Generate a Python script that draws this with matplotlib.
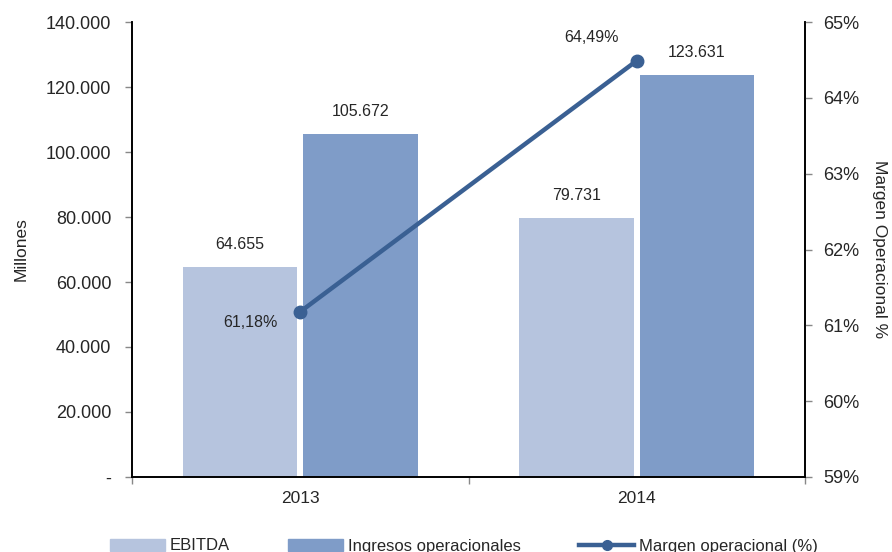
import matplotlib.pyplot as plt
import numpy as np
from matplotlib.lines import Line2D
from matplotlib.patches import Patch

plt.rcParams['font.family'] = ['Liberation Sans', 'DejaVu Sans']

# ---- datos ----
anios = ['2013', '2014']
ebitda = [64655, 79731]
ingresos = [105672, 123631]
margen = [61.18, 64.49]

col_ebitda = '#b6c4de'
col_ingresos = '#7f9cc8'
col_margen = '#3a6093'
col_texto = '#262626'


def miles(v):
    return f'{v:,.0f}'.replace(',', '.')


fig = plt.figure(figsize=(8.92, 5.52), dpi=100)
ax = fig.add_axes([0.148, 0.1359, 0.7545, 0.8242])
ax2 = ax.twinx()

x = np.arange(len(anios))
w = 0.34
off = 0.179

b1 = ax.bar(x - off, ebitda, w, color=col_ebitda, zorder=2)
b2 = ax.bar(x + off, ingresos, w, color=col_ingresos, zorder=2)

for xs, vals in ((x - off, ebitda), (x + off, ingresos)):
    for xi, v in zip(xs, vals):
        ax.annotate(miles(v), (xi, v), xytext=(0, 16), textcoords='offset points',
                    ha='center', va='center', fontsize=11.5, color=col_texto)

ax.set_xlim(-0.5, 1.5)
ax.set_ylim(0, 140000)
ax.set_yticks(np.arange(0, 140001, 20000))
ax.set_yticklabels(['-'] + [miles(v) for v in range(20000, 140001, 20000)])
ax.set_xticks([-0.5, 0.5, 1.5])
ax.set_xticklabels([])
ax.set_xticks(x, minor=True)
ax.set_xticklabels(anios, minor=True)
ax.tick_params(axis='x', which='minor', length=0, pad=10, labelsize=12.5, labelcolor=col_texto)
ax.tick_params(axis='x', which='major', length=5, direction='out', width=1, color='#888888')
ax.tick_params(axis='y', length=5, width=1, pad=10, labelsize=13, color='#888888',
               labelcolor=col_texto)
ax.set_ylabel('Millones', fontsize=12.5, labelpad=12, color=col_texto)

# línea de margen sobre eje derecho
ax2.plot(x, margen, color=col_margen, lw=3.2, marker='o', ms=9, zorder=5)
ax2.set_ylim(59, 65)
ax2.set_yticks(range(59, 66))
ax2.set_yticklabels([f'{v}%' for v in range(59, 66)])
ax2.tick_params(axis='y', length=5, width=1, pad=8, labelsize=13, color='#888888',
                labelcolor=col_texto)
ax2.set_ylabel('Margen Operacional %', fontsize=12.5, rotation=-90, labelpad=20,
               color=col_texto)

ax2.annotate(f'{margen[0]:.2f}%'.replace('.', ','), (x[0], margen[0]), xytext=(-16, -8),
             textcoords='offset points', ha='right', va='center', fontsize=11.5,
             color=col_texto)
ax2.annotate(f'{margen[1]:.2f}%'.replace('.', ','), (x[1], margen[1]), xytext=(-13, 17),
             textcoords='offset points', ha='right', va='center', fontsize=11.5,
             color=col_texto)

for a in (ax, ax2):
    a.spines['top'].set_visible(False)
    for s in ('left', 'right', 'bottom'):
        a.spines[s].set_linewidth(1.2)
ax.set_zorder(ax2.get_zorder() - 1)
ax2.patch.set_visible(False)

handles = [Patch(color=col_ebitda), Patch(color=col_ingresos),
           Line2D([], [], color=col_margen, lw=3.2, marker='o', ms=7)]
fig.legend(handles, ['EBITDA', 'Ingresos operacionales', 'Margen operacional (%)'],
           loc='center', bbox_to_anchor=(0.52, 1 - 546 / 552), ncol=3, frameon=False,
           fontsize=12, handlelength=3.3, handleheight=0.7, handletextpad=0.3,
           columnspacing=3.5, labelcolor=col_texto)

fig.savefig('out.png', dpi=100)
